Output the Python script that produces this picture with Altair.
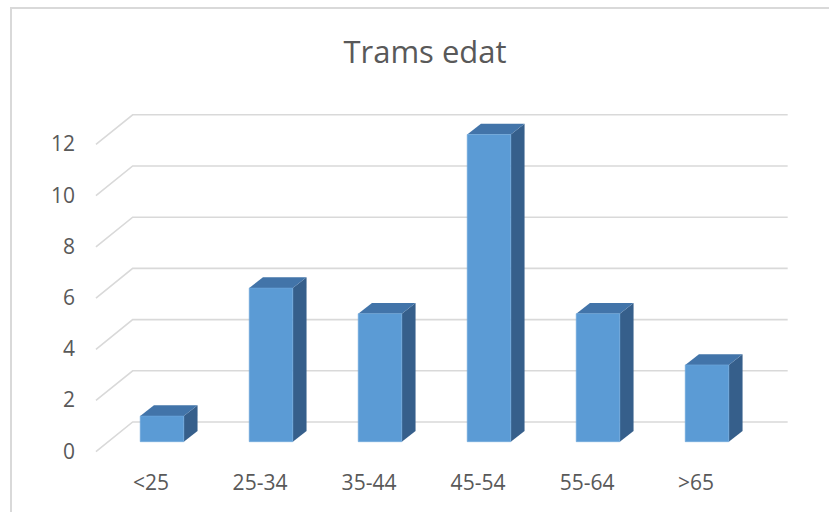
import altair as alt
import pandas as pd

# ---- data ----
categories = ["<25", "25-34", "35-44", "45-54", "55-64", ">65"]
counts = [1, 6, 5, 12, 5, 3]
y_ticks = [0, 2, 4, 6, 8, 10, 12]
title_text = "Trams edat"

# ---- 3D geometry (in data units) ----
HALF_W = 0.2      # half bar width in category units
DEPTH_U = 0.126   # depth offset along x (category units)
DEPTH_V = 0.42    # depth offset along y (value units)
FLOOR_U, FLOOR_V = -0.606, -0.39   # front-left end of grid diagonals
WALL_U, WALL_V = -0.269, 0.77      # back wall start
WALL_END_U = 5.74

X_DOM = [-0.6606, 5.853]
Y_DOM = [-0.715, 13.348]
xs = alt.Scale(domain=X_DOM, nice=False, zero=False)
ys = alt.Scale(domain=Y_DOM, nice=False, zero=False)

GRID = "#d9d9d9"
TXT = "#595959"
FRONT = "#5b9bd5"
TOP = "#4274a9"
SIDE = "#365f8b"
FONT = "Open Sans"

# gridlines (diagonal + back horizontal)
grid_rows = []
for g in y_ticks:
    grid_rows.append({"g": g, "o": 0, "u": FLOOR_U, "v": g + FLOOR_V})
    grid_rows.append({"g": g, "o": 1, "u": WALL_U, "v": g + WALL_V})
    grid_rows.append({"g": g, "o": 2, "u": WALL_END_U, "v": g + WALL_V})
grid_df = pd.DataFrame(grid_rows)

grid = alt.Chart(grid_df).mark_line(color=GRID, strokeWidth=1.6).encode(
    x=alt.X("u:Q", scale=xs, axis=None),
    y=alt.Y("v:Q", scale=ys, axis=None),
    detail="g:N",
    order="o:Q",
)

ytick_df = pd.DataFrame({"g": y_ticks,
                         "u": [FLOOR_U] * len(y_ticks),
                         "v": [t + FLOOR_V for t in y_ticks]})
ylabels = alt.Chart(ytick_df).mark_text(
    align="right", baseline="middle", dx=-21, dy=1, font=FONT, fontSize=21, color=TXT
).encode(
    x=alt.X("u:Q", scale=xs, axis=None),
    y=alt.Y("v:Q", scale=ys, axis=None),
    text="g:Q",
)

side_rows = []
top_rows = []
front_rows = []
for i, (c, val) in enumerate(zip(categories, counts)):
    l, r = i - HALF_W, i + HALF_W
    front_rows.append({"cat": c, "i": i, "val": val, "l": l, "r": r, "base": 0})
    side_rows.append({"cat": c, "u": r, "lo": 0.0, "hi": val})
    side_rows.append({"cat": c, "u": r + DEPTH_U, "lo": DEPTH_V, "hi": val + DEPTH_V})
    top_rows.append({"cat": c, "v": val, "a": l, "b": r})
    top_rows.append({"cat": c, "v": val + DEPTH_V, "a": l + DEPTH_U, "b": r + DEPTH_U})
bars_df = pd.DataFrame(front_rows)
side_df = pd.DataFrame(side_rows)
top_df = pd.DataFrame(top_rows)

side = alt.Chart(side_df).mark_area(color=SIDE, orient="vertical").encode(
    x=alt.X("u:Q", scale=xs, axis=None),
    y=alt.Y("hi:Q", scale=ys, axis=None),
    y2="lo:Q",
    detail="cat:N",
)
top = alt.Chart(top_df).mark_area(color=TOP, orient="horizontal").encode(
    y=alt.Y("v:Q", scale=ys, axis=None),
    x=alt.X("a:Q", scale=xs, axis=None),
    x2="b:Q",
    detail="cat:N",
)
front = alt.Chart(bars_df).mark_rect(color=FRONT, stroke="#6fa8dc", strokeWidth=0.6).encode(
    x=alt.X("l:Q", scale=xs, axis=None),
    x2="r:Q",
    y=alt.Y("val:Q", scale=ys, axis=None),
    y2="base:Q",
)

xlabels = alt.Chart(bars_df).mark_text(
    align="center", baseline="alphabetic", dx=-11, dy=48, font=FONT, fontSize=21, color=TXT
).encode(
    x=alt.X("i:Q", scale=xs, axis=None),
    y=alt.Y("base:Q", scale=ys, axis=None),
    text="cat:N",
)

title = alt.Chart(pd.DataFrame({"t": [title_text]})).mark_text(
    align="center", baseline="alphabetic", font=FONT, fontSize=31, color=TXT
).encode(x=alt.value(335), y=alt.value(-37), text="t:N")

border = alt.Chart(pd.DataFrame({"k": [0]})).mark_rect(
    fill=None, stroke="#d9d9d9", strokeWidth=2
).encode(x=alt.value(-79), x2=alt.value(800), y=alt.value(-92), y2=alt.value(430))

chart = alt.layer(border, grid, ylabels, side, top, front, xlabels, title).properties(
    width=710, height=360,
    autosize="none",
    padding={"left": 90, "top": 100, "right": 29, "bottom": 52},
    background="white",
).configure_view(stroke=None)

chart.save("out.html", embed_options={"renderer": "svg", "actions": False})
